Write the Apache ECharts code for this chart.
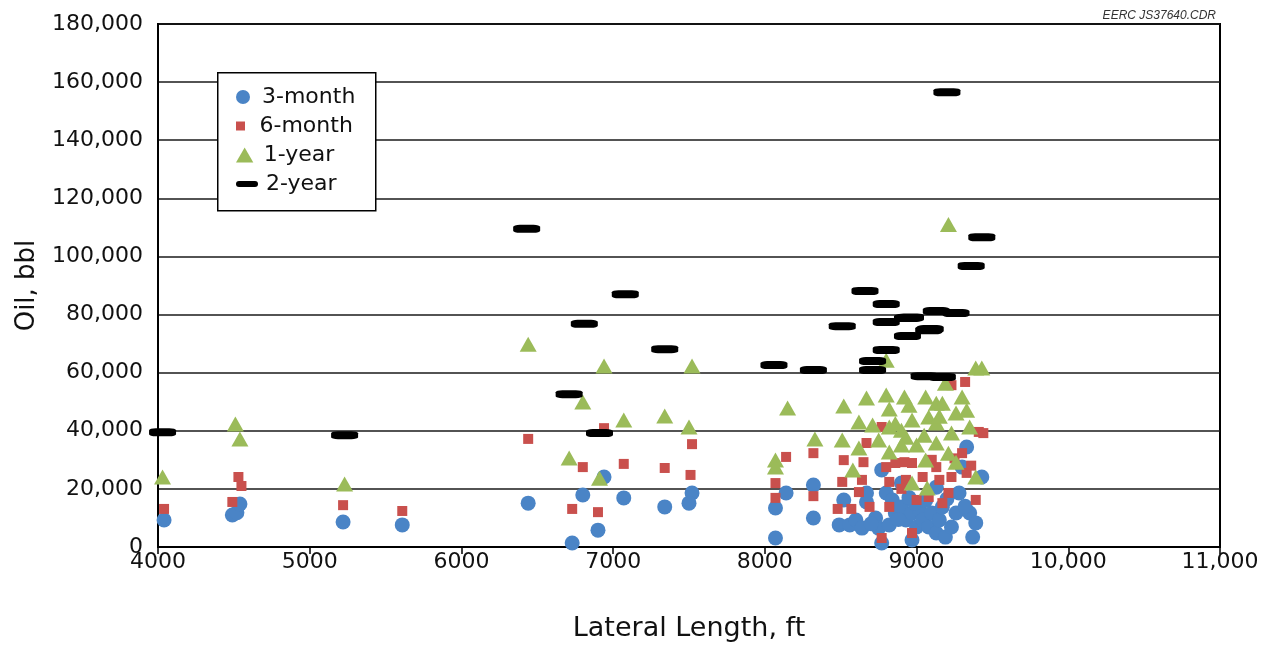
<!DOCTYPE html>
<html>
<head>
<meta charset="utf-8">
<script src="https://cdn.jsdelivr.net/npm/echarts@6/dist/echarts.min.js"></script>
<style>
html,body{margin:0;padding:0;background:#fff;}
#chart{width:1277px;height:650px;}
</style>
</head>
<body>
<div id="chart"></div>
<script>
// ---- Data (Lateral Length ft, Oil bbl) ----
const seriesNames = ['3-month', '6-month', '1-year', '2-year'];
const xTicks = [4000, 5000, 6000, 7000, 8000, 9000, 10000, 11000];
const xTickLabels = ['4000', '5000', '6000', '7000', '8000', '9000', '10,000', '11,000'];
const yTicks = [0, 20000, 40000, 60000, 80000, 100000, 120000, 140000, 160000, 180000];
const yTickLabels = ['0', '20,000', '40,000', '60,000', '80,000', '100,000', '120,000', '140,000', '160,000', '180,000'];

const threeMonth = [
  [4040,9300],[4490,11000],[4520,11800],[4540,14800],[5220,8600],[5610,7600],
  [6440,15100],[6800,17900],[6940,24100],[7070,16900],[7340,13800],[7520,18600],[7500,15100],[6900,5800],[6730,1400],
  [8070,3100],[8070,13400],[8140,18600],[8320,21300],[8320,10000],[8490,7600],[8520,16200],[8560,7600],[8600,9300],
  [8640,6500],[8670,15500],[8670,18600],[8730,10000],[8750,6500],[8770,26500],[8800,18600],[8820,7600],[8770,1400],
  [8840,16200],[8860,11700],[8900,13800],[8930,9300],[8970,11700],[8970,2400],[9000,6900],[9020,12700],[9040,9300],
  [9080,6900],[9100,11700],[9130,4800],[9150,9300],[9170,13800],[9190,3400],[9230,6900],[9260,11700],[9280,18600],
  [9330,34400],[9350,11700],[9370,3400],[9390,8300],[9430,24100],[9300,27500],[9130,20600],[8900,22000],[8990,15000],
  [8950,17000],[9060,16000],[9200,16500],[9320,14000],[8700,8000],[8880,9500]
];
const sixMonth = [
  [4040,13100],[4490,15500],[4530,24100],[4550,21000],[5220,14400],[5610,12400],
  [6440,37200],[6940,40900],[6800,27500],[7070,28600],[7340,27200],[7520,35400],[7510,24800],[6730,13100],[6900,12000],
  [8140,31000],[8070,22000],[8070,16900],[8320,32300],[8320,17500],[8520,29900],[8510,22400],[8480,13100],[8570,13100],
  [8670,35800],[8650,29200],[8640,23100],[8620,18900],[8690,13800],[8770,3100],[8770,41300],[8800,27500],[8820,22400],
  [8820,13800],[8860,28900],[8920,29200],[8970,28900],[8930,23100],[8970,4800],[9000,16200],[9040,24100],[9080,17200],
  [9130,27500],[9150,23100],[9170,15100],[9210,18600],[9230,24100],[9300,32300],[9330,25500],[9320,56800],[9230,55700],
  [9410,39600],[9440,39200],[9390,16200],[9360,28000],[8900,20000],[9100,30000],[9250,30500]
];
const oneYear = [
  [4030,24100],[4510,42300],[4540,37200],[5230,21700],
  [6440,69800],[6940,62300],[7520,62300],[6800,49900],[7070,43700],[7340,45100],[7500,41300],[6710,30600],[6910,23700],
  [8150,47800],[8330,37200],[8070,29900],[8070,27500],[8520,48500],[8670,51300],[8510,36800],[8620,43000],[8620,34100],
  [8580,26500],[8710,42000],[8750,36800],[8800,64300],[8800,52300],[8820,47500],[8820,41300],[8820,32700],[8920,51600],
  [8950,48800],[8970,43700],[8930,37800],[8900,35100],[9000,35100],[9060,51600],[9080,44700],[9050,38500],[9060,29900],
  [9130,49500],[9170,49500],[9130,42700],[9130,35800],[9190,56400],[9300,51600],[9260,46100],[9230,39200],[9210,32300],
  [9260,29200],[9330,47100],[9350,41300],[9390,61600],[9430,61600],[9390,24100],[8970,22000],[9070,20300],[8900,40200],
  [8860,42500],[9150,45000],[9210,111000]
];
const twoYear = [
  [4030,39500],[5230,38500],[6430,109500],[6810,76800],[6710,52600],[7080,87000],[6910,39200],[7340,68100],
  [8060,62600],[8320,60900],[8660,88100],[8800,83600],[8510,76000],[8800,77400],[8940,78800],[9130,81200],[9260,80500],
  [9080,74600],[8940,72600],[8800,67800],[8710,64000],[8710,60900],[9050,58800],[9170,58500],[9200,156500],
  [9360,96700],[9430,106600],[9090,75000],[8960,79000]
];

const colors = ['#4a84c6', '#c9504d', '#9bbb59', '#000000'];
const FONT = 'DejaVu Sans';

const chart = echarts.init(document.getElementById('chart'), null, {renderer: 'canvas'});

const legendRows = [97, 126, 155, 184];
const legendIcons = [
  {icon: 'circle', h: 14},
  {icon: 'path://M0,0L1,0L1,1L0,1Z', h: 9},
  {icon: 'path://M0.5,0L1,0.866L0,0.866Z', h: 15},
  {icon: 'path://M3,0H19A3,3,0,0,1,19,6H3A3,3,0,0,1,3,0Z', h: 6}
];

const legends = seriesNames.map((n, i) => ({
  data: [{name: n, icon: legendIcons[i].icon}],
  left: 236,
  top: legendRows[i] - 11,
  padding: 0,
  itemWidth: 28,
  itemHeight: legendIcons[i].h,
  symbolKeepAspect: true,
  selectedMode: false,
  z: 10,
  textStyle: {fontFamily: FONT, fontSize: 22, color: '#111', padding: [0, 0, 0, 0]}
}));

const option = {
  animation: false,
  backgroundColor: '#ffffff',
  title: {
    text: 'EERC JS37640.CDR',
    right: 56, top: 5,
    textStyle: {fontFamily: 'Liberation Sans', fontStyle: 'italic', fontWeight: 'normal', fontSize: 12, color: '#333'}
  },
  graphic: [{
    type: 'rect', left: 217, top: 72, z: 5,
    shape: {width: 158, height: 138},
    style: {fill: '#fff', stroke: '#000', lineWidth: 1.5}
  }],
  legend: legends,
  grid: {left: 158, right: 57, top: 24, bottom: 103, show: true, borderColor: '#000', borderWidth: 2, backgroundColor: 'transparent'},
  xAxis: {
    type: 'value', min: xTicks[0], max: xTicks[xTicks.length - 1], interval: 1000,
    name: 'Lateral Length, ft', nameLocation: 'middle', nameGap: 68,
    nameTextStyle: {fontFamily: FONT, fontSize: 27, color: '#111'},
    axisLine: {show: true, lineStyle: {color: '#000', width: 2}},
    axisTick: {show: true, length: 7, lineStyle: {color: '#000', width: 1.5}},
    axisLabel: {
      margin: 4, fontFamily: FONT, fontSize: 22, color: '#111',
      formatter: v => xTickLabels[xTicks.indexOf(v)] || ''
    },
    splitLine: {show: false}
  },
  yAxis: {
    type: 'value', min: yTicks[0], max: yTicks[yTicks.length - 1], interval: 20000,
    name: 'Oil, bbl', nameLocation: 'middle', nameGap: 118, nameRotate: 90,
    nameTextStyle: {fontFamily: FONT, fontSize: 26, color: '#111'},
    axisLine: {show: true, lineStyle: {color: '#000', width: 2}},
    axisTick: {show: false},
    axisLabel: {
      margin: 15, fontFamily: FONT, fontSize: 22, color: '#111',
      formatter: v => yTickLabels[yTicks.indexOf(v)] || ''
    },
    splitLine: {show: true, lineStyle: {color: '#1a1a1a', width: 1.6}}
  },
  series: [
    {name: seriesNames[0], type: 'scatter', data: threeMonth, symbol: 'circle', symbolSize: 15,
     itemStyle: {color: colors[0], opacity: 1}, z: 2},
    {name: seriesNames[1], type: 'scatter', data: sixMonth, symbol: 'rect', symbolSize: 10,
     itemStyle: {color: colors[1], opacity: 1}, z: 3},
    {name: seriesNames[2], type: 'scatter', data: oneYear, symbol: 'triangle', symbolSize: [17, 15],
     itemStyle: {color: colors[2], opacity: 1}, z: 4},
    {name: seriesNames[3], type: 'scatter', data: twoYear, symbol: 'roundRect', symbolSize: [27, 8],
     itemStyle: {color: colors[3], opacity: 1}, z: 5}
  ]
};
chart.setOption(option);
</script>
</body>
</html>
